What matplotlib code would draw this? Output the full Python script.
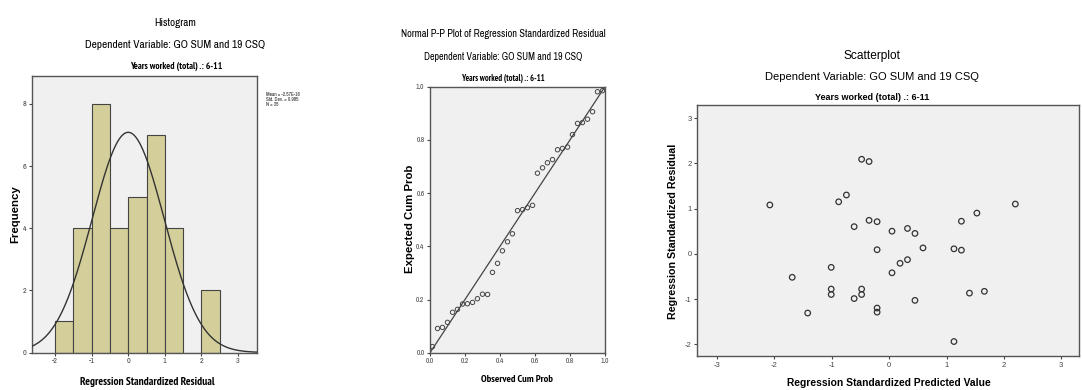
import matplotlib
matplotlib.use("Agg")
import matplotlib.pyplot as plt
from matplotlib import font_manager
from matplotlib.font_manager import FontProperties
import numpy as np

# ---------------- data ----------------
hist_bin_edges = [-2.0, -1.5, -1.0, -0.5, 0.0, 0.5, 1.0, 1.5, 2.0, 2.5]
hist_counts = [1, 4, 8, 4, 5, 7, 4, 0, 2]
resid_mean = -2.57e-16
resid_sd = 0.985
resid_n = 35

pp_observed = [0.014, 0.043, 0.071, 0.100, 0.129, 0.157, 0.186, 0.214, 0.243, 0.271,
               0.300, 0.329, 0.357, 0.386, 0.414, 0.443, 0.471, 0.500, 0.529, 0.557,
               0.586, 0.614, 0.643, 0.671, 0.700, 0.729, 0.757, 0.786, 0.814, 0.843,
               0.871, 0.900, 0.929, 0.957, 0.986]
pp_expected = [0.023, 0.091, 0.095, 0.114, 0.152, 0.163, 0.183, 0.184, 0.189, 0.203,
               0.220, 0.219, 0.302, 0.336, 0.383, 0.417, 0.447, 0.534, 0.538, 0.545,
               0.554, 0.675, 0.695, 0.714, 0.726, 0.763, 0.768, 0.773, 0.820, 0.862,
               0.865, 0.878, 0.906, 0.981, 0.985]

sc_pred = [-2.08, -1.69, -1.42, -1.01, -1.01, -1.01, -0.88, -0.745, -0.61, -0.61,
           -0.48, -0.48, -0.48, -0.35, -0.35, -0.21, -0.21, -0.21, -0.21, 0.05,
           0.05, 0.19, 0.32, 0.32, 0.45, 0.45, 0.59, 1.13, 1.13, 1.26,
           1.26, 1.40, 1.53, 1.66, 2.20]
sc_resid = [1.08, -0.52, -1.31, -0.30, -0.78, -0.90, 1.15, 1.30, 0.60, -0.99,
            2.09, -0.78, -0.90, 2.04, 0.74, 0.71, 0.09, -1.20, -1.29, 0.50,
            -0.42, -0.21, 0.56, -0.13, 0.45, -1.03, 0.13, 0.11, -1.94, 0.72,
            0.08, -0.87, 0.90, -0.83, 1.10]

hist_xticks = [-2, -1, 0, 1, 2, 3]
hist_yticks = [0, 2, 4, 6, 8]
pp_ticks = [0.0, 0.2, 0.4, 0.6, 0.8, 1.0]
sc_xticks = [-3, -2, -1, 0, 1, 2, 3]
sc_yticks = [-2, -1, 0, 1, 2, 3]

subtitle = "Dependent Variable: GO SUM and 19 CSQ"
split_label = "Years worked (total) .: 6-11"
legend_lines = ["Mean = -2.57E-16", "Std. Dev. = 0.985", f"N = {resid_n}"]

# ---------------- styling ----------------
plt.rcParams["axes.unicode_minus"] = False
W, H = 1082, 390
ttf = font_manager.fontManager.ttflist
available = {f.name for f in ttf}
REG = "Liberation Sans" if "Liberation Sans" in available else "DejaVu Sans"


def find_narrow(bold):
    # look for a condensed / narrow sans face
    cands = []
    for f in ttf:
        fn = f.fname.lower()
        isbold = f.weight in ("bold", 700) or (isinstance(f.weight, int) and f.weight >= 600)
        if isbold != bold:
            continue
        if "italic" in fn or "oblique" in fn or f.style != "normal":
            continue
        if "mono" in fn or "serif" in fn and "sans" not in fn:
            continue
        if "narrow" in f.name.lower() or "narrow" in fn:
            cands.append((0, f.fname))
        elif "condensed" in fn or f.stretch in ("condensed", "semi-condensed", 87, 75):
            if "sans" in fn:
                cands.append((1, f.fname))
    cands.sort()
    return cands[0][1] if cands else None


def fp(kind, bold=False):
    if kind == "narrow":
        path = find_narrow(bold)
        if path:
            return FontProperties(fname=path)
    return FontProperties(family=REG, weight="bold" if bold else "normal")


BG = "#f0f0f0"
BAR = "#d3ce9a"
EDGE = "#444444"
TICKC = "#444444"

fig = plt.figure(figsize=(W / 100, H / 100), dpi=100)
fig.patch.set_facecolor("white")
renderer = fig.canvas.get_renderer()


def ax_at(left, top, right, bottom):
    return fig.add_axes([left / W, 1 - bottom / H, (right - left) / W, (bottom - top) / H])


def fit_text(x, y, s, target, kind="reg", bold=False, rotation=0, ha="center", color="black"):
    prop = fp(kind, bold)
    prop.set_size(10)
    t = fig.text(x / W, 1 - y / H, s, fontproperties=prop, ha=ha, va="center",
                 rotation=rotation, color=color)
    bb = t.get_window_extent(renderer)
    size = bb.height if rotation == 90 else bb.width
    t.set_fontsize(10 * target / size)
    return t


def style_axes(ax, tick_fs, kind):
    ax.set_facecolor(BG)
    for s in ax.spines.values():
        s.set_color("#555555")
        s.set_linewidth(1.0)
    ax.tick_params(direction="out", length=2.5, width=0.8, color=TICKC,
                   labelsize=tick_fs, labelcolor=TICKC, pad=1.5)
    for lab in ax.get_xticklabels() + ax.get_yticklabels():
        prop = fp(kind)
        prop.set_size(tick_fs)
        lab.set_fontproperties(prop)


# ---------------- Histogram ----------------
ax1 = ax_at(32, 76, 257, 352.5)
ax1.bar(hist_bin_edges[:-1], hist_counts, width=np.diff(hist_bin_edges), align="edge",
        color=BAR, edgecolor=EDGE, linewidth=0.8, zorder=2)
xs = np.linspace(-2.65, 3.6, 300)
binw = hist_bin_edges[1] - hist_bin_edges[0]
pdf = resid_n * binw * np.exp(-0.5 * ((xs - resid_mean) / resid_sd) ** 2) / (resid_sd * np.sqrt(2 * np.pi))
ax1.plot(xs, pdf, color="#333333", lw=1.0, zorder=3)
ax1.set_xlim(-2.63, 3.52)
ax1.set_ylim(0, 8.9)
ax1.set_xticks(hist_xticks)
ax1.set_yticks(hist_yticks)
style_axes(ax1, 5.8, "narrow")

fit_text(175, 22.7, "Histogram", 42, "narrow")
fit_text(175, 45, subtitle, 180, "narrow")
fit_text(176, 66.7, split_label, 92, "narrow", bold=True)
for yy, s in zip([94.5, 99.3, 104.1], legend_lines):
    p = fp("narrow")
    p.set_size(3.7)
    fig.text(266 / W, 1 - yy / H, s, fontproperties=p, ha="left", va="center", color="#222222")
fit_text(147, 381.7, "Regression Standardized Residual", 136, "narrow", bold=True)
fit_text(15, 214, "Frequency", 58, "reg", bold=True, rotation=90)

# ---------------- P-P plot ----------------
ax2 = ax_at(430, 86.7, 605, 352.7)
ax2.plot([0, 1], [0, 1], color="#444444", lw=0.9, zorder=2)
ax2.scatter(pp_observed, pp_expected, s=10, facecolors="none", edgecolors="#444444",
            linewidths=0.7, zorder=3)
ax2.set_xlim(0, 1)
ax2.set_ylim(0, 1)
ax2.set_xticks(pp_ticks)
ax2.set_yticks(pp_ticks)
ax2.set_xticklabels([f"{v:.1f}" for v in pp_ticks])
ax2.set_yticklabels([f"{v:.1f}" for v in pp_ticks])
style_axes(ax2, 5.3, "narrow")

fit_text(503, 34, "Normal P-P Plot of Regression Standardized Residual", 205, "narrow")
fit_text(503, 56.7, subtitle, 158, "narrow")
fit_text(503, 78, split_label, 83, "narrow", bold=True)
fit_text(517, 380, "Observed Cum Prob", 72, "narrow", bold=True)
fit_text(410, 219, "Expected Cum Prob", 108, "reg", bold=True, rotation=90)

# ---------------- Scatterplot ----------------
ax3 = ax_at(697, 105, 1079, 356)
ax3.scatter(sc_pred, sc_resid, s=16, facecolors="none", edgecolors="#333333",
            linewidths=0.9, zorder=3)
ax3.set_xlim(-3.35, 3.31)
ax3.set_ylim(-2.26, 3.29)
ax3.set_xticks(sc_xticks)
ax3.set_yticks(sc_yticks)
style_axes(ax3, 5.5, "reg")

fit_text(872, 55.7, "Scatterplot", 57, "reg")
fit_text(872, 76.7, subtitle, 213, "reg")
fit_text(872, 98, split_label, 113, "reg", bold=True)
fit_text(889, 382.7, "Regression Standardized Predicted Value", 202, "reg", bold=True)
fit_text(673, 231, "Regression Standardized Residual", 175, "reg", bold=True, rotation=90)

fig.savefig("out.png", dpi=100, facecolor="white")
